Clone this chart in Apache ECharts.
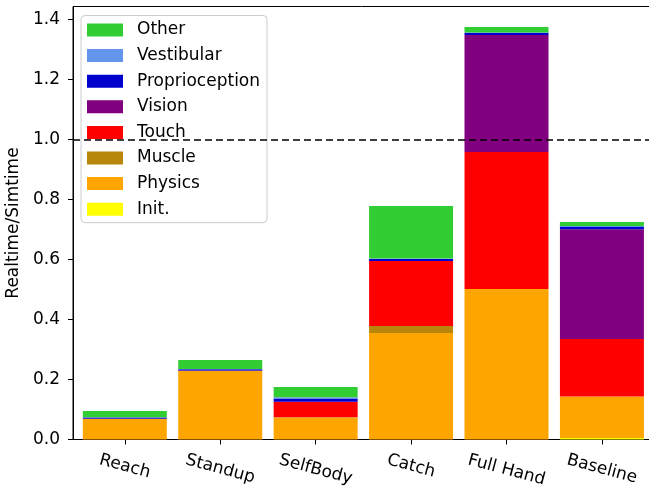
<!DOCTYPE html>
<html>
<head>
<meta charset="utf-8">
<script src="https://cdn.jsdelivr.net/npm/echarts@6/dist/echarts.min.js"></script>
<style>
  html, body { margin: 0; padding: 0; background: #ffffff; }
  #chart { width: 649px; height: 486px; }
</style>
</head>
<body>
<div id="chart"></div>
<script>
// Scenarios along the x axis
const categories = ['Reach', 'Standup', 'SelfBody', 'Catch', 'Full Hand', 'Baseline'];

// Realtime/Simtime share of each component, per scenario (bottom to top of each stack)
const initVals           = [0.000, 0.000, 0.000, 0.000, 0.000, 0.005];
const physicsVals        = [0.069, 0.228, 0.073, 0.355, 0.502, 0.138];
const muscleVals         = [0.000, 0.000, 0.001, 0.023, 0.000, 0.000];
const touchVals          = [0.000, 0.000, 0.052, 0.217, 0.456, 0.192];
const visionVals         = [0.000, 0.002, 0.000, 0.000, 0.390, 0.366];
const proprioceptionVals = [0.004, 0.004, 0.011, 0.007, 0.008, 0.007];
const vestibularVals     = [0.001, 0.001, 0.004, 0.001, 0.001, 0.004];
const otherVals          = [0.021, 0.030, 0.034, 0.175, 0.018, 0.013];

// Value-axis tick labels
const yTicks = [0.0, 0.2, 0.4, 0.6, 0.8, 1.0, 1.2, 1.4];
// Real-time reference level
const realtimeLevel = 1.0;

const components = [
  { name: 'Init.',          values: initVals,           color: '#FFFF00' },
  { name: 'Physics',        values: physicsVals,        color: '#FFA500' },
  { name: 'Muscle',         values: muscleVals,         color: '#B8860B' },
  { name: 'Touch',          values: touchVals,          color: '#FF0000' },
  { name: 'Vision',         values: visionVals,         color: '#800080' },
  { name: 'Proprioception', values: proprioceptionVals, color: '#0000CD' },
  { name: 'Vestibular',     values: vestibularVals,     color: '#6495ED' },
  { name: 'Other',          values: otherVals,          color: '#32CD32' }
];

const FONT = '"DejaVu Sans", "Liberation Sans", sans-serif';
const FS = 17;

// Rotated tick labels are pushed down by half their slanted extent,
// with a small sideways correction so they stay centred under the tick
const measureCtx = document.createElement('canvas').getContext('2d');
measureCtx.font = FS + 'px "DejaVu Sans"';
const ROT = 15 * Math.PI / 180;
const labelRich = {};
categories.forEach((c, i) => {
  const w = measureCtx.measureText(c).width;
  const padTop = w * Math.sin(ROT);
  labelRich['l' + i] = {
    fontFamily: FONT, fontSize: FS, color: '#000',
    padding: [padTop, 0, 0, padTop * Math.tan(ROT)]
  };
});

// Each row is [value, position]; the value comes first so the stack is built on it
const series = components.map((comp, k) => {
  const s = {
    name: comp.name,
    type: 'bar',
    stack: 'total',
    barWidth: 84,
    itemStyle: { color: comp.color },
    emphasis: { disabled: true },
    encode: { x: 1, y: 0 },
    data: comp.values.map((v, i) => [v, i])
  };
  if (k === components.length - 1) {
    s.markLine = {
      silent: true,
      symbol: ['none', 'none'],
      label: { show: false },
      z: 5,
      lineStyle: { color: '#000', type: [7, 4], width: 1.5 },
      data: [{ yAxis: realtimeLevel }]
    };
  }
  return s;
});

const chart = echarts.init(document.getElementById('chart'), null, { renderer: 'canvas' });
chart.setOption({
  animation: false,
  backgroundColor: '#ffffff',
  textStyle: { fontFamily: FONT },
  grid: {
    left: 73, top: 6.5, right: -5.4, bottom: 46.5,
    outerBoundsMode: 'none',
    containLabel: false,
    show: true, borderColor: '#000', borderWidth: 1, backgroundColor: 'transparent'
  },
  legend: {
    orient: 'vertical',
    left: 81, top: 15.5,
    padding: [6, 7, 5, 6],
    itemWidth: 36, itemHeight: 13, itemGap: 8.6,
    icon: 'rect',
    backgroundColor: 'rgba(255,255,255,0.8)',
    borderColor: '#cccccc', borderWidth: 1, borderRadius: 4,
    selectedMode: false,
    textStyle: { fontFamily: FONT, fontSize: FS, color: '#000', lineHeight: 17, padding: [0, 0, 0, 9] },
    data: components.map(c => c.name).reverse()
  },
  xAxis: {
    type: 'value',
    min: -0.543, max: 5.55,
    splitLine: { show: false },
    axisLine: { show: true, onZero: false, lineStyle: { color: '#000', width: 1 } },
    axisTick: { show: true, length: 5, customValues: categories.map((c, i) => i), lineStyle: { color: '#000' } },
    axisLabel: {
      customValues: categories.map((c, i) => i),
      rotate: -15,
      align: 'center',
      verticalAlign: 'middle',
      margin: 20,
      formatter: v => { const i = Math.round(v); return '{l' + i + '|' + categories[i] + '}'; },
      rich: labelRich
    }
  },
  yAxis: {
    type: 'value',
    min: 0, max: 433 / 300,
    name: 'Realtime/Simtime',
    nameLocation: 'middle',
    nameGap: 47,
    nameTextStyle: { fontFamily: FONT, fontSize: FS, color: '#000' },
    splitLine: { show: false },
    axisLine: { show: true, onZero: false, lineStyle: { color: '#000', width: 1 } },
    axisTick: { show: true, length: 5, customValues: yTicks, lineStyle: { color: '#000' } },
    axisLabel: {
      customValues: yTicks,
      margin: 13,
      fontFamily: FONT, fontSize: FS, color: '#000',
      formatter: v => v.toFixed(1)
    }
  },
  series: series
});
</script>
</body>
</html>
